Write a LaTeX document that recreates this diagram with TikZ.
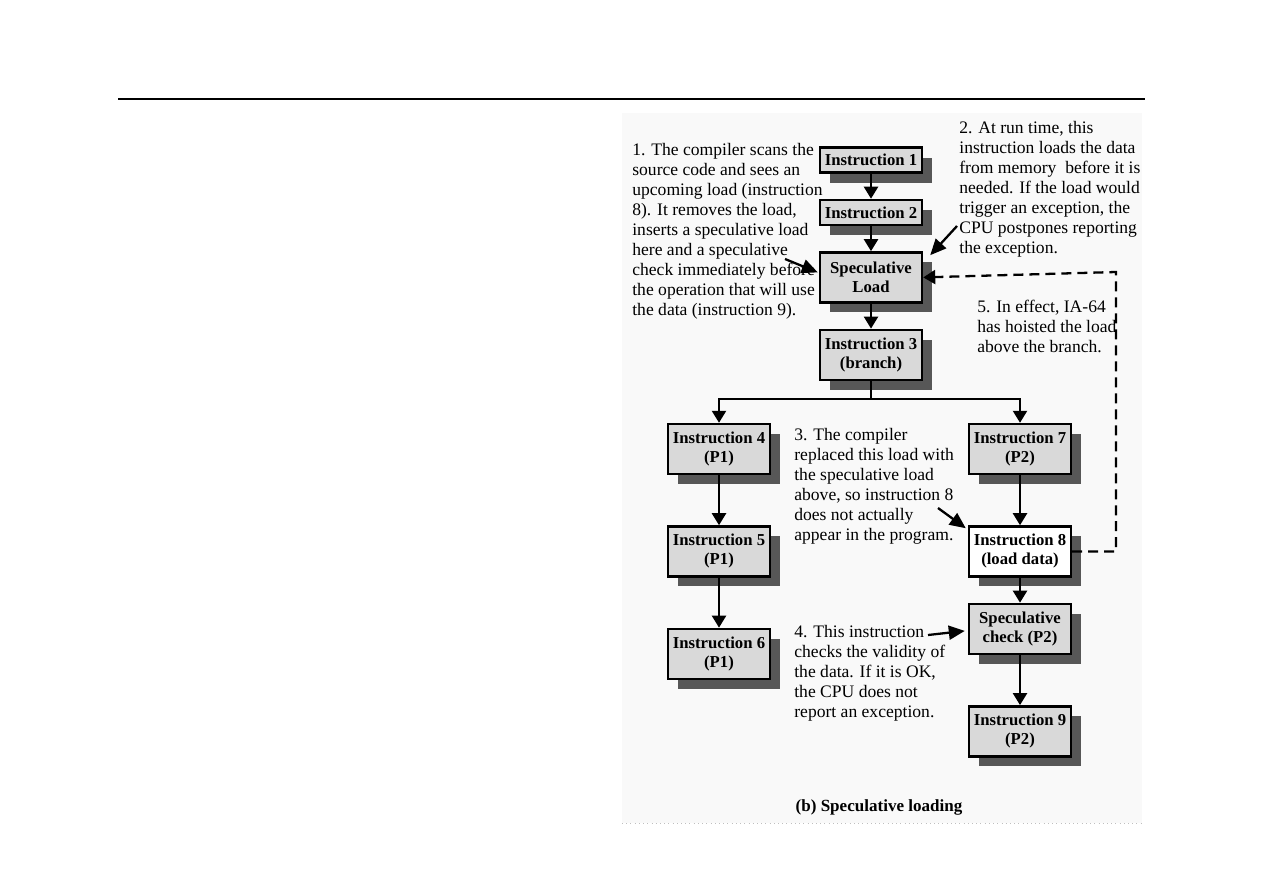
\documentclass[tikz,border=0pt]{standalone}
\usepackage{fontspec}
\setmainfont{Liberation Serif}
\usepackage{tikz}
\usetikzlibrary{arrows.meta, positioning, shadows}
\definecolor{boxgray}{HTML}{D9D9D9}
\definecolor{shadegray}{HTML}{575757}
\definecolor{panelgray}{HTML}{F9F9F9}

\begin{document}
\begin{tikzpicture}[
  x=0.02cm, y=-0.02cm,
  every node/.style={font=\fontsize{10pt}{11.4pt}\selectfont},
  instr/.style  ={rectangle, draw, line width=1.4pt, fill=boxgray,
                  minimum width=2.04cm, minimum height=5mm, inner sep=1pt,
                  align=center, font=\fontsize{9.5pt}{10.8pt}\selectfont\bfseries,
                  drop shadow={shadow xshift=0.2cm, shadow yshift=-0.2cm,
                               fill=shadegray, opacity=1}},
  instr2/.style ={instr, minimum height=10mm},
  note/.style   ={anchor=north west, inner sep=0pt, align=left},
  arr/.style    ={-{Triangle[width=0.28cm, length=0.24cm]}, line width=1.3pt},
  notearr/.style={-{Triangle[width=0.28cm, length=0.32cm]}, line width=1.3pt},
  dasharr/.style={-{Triangle[width=0.28cm, length=0.24cm]}, line width=1.3pt,
                  dash pattern=on 0.2cm off 0.12cm},
]
\useasboundingbox (0,0) rectangle (1263,893);

% Page rule and panel
\draw[line width=1pt] (118,99) -- (1145,99);
\fill[panelgray] (622,113) rectangle (1142,823);
\draw[gray!50, dotted] (622,823) -- (1142,823);

% Common path
\node[instr]  (i1) at (871,160)         {Instruction 1};
\node[instr,  below=5mm of i1]   (i2)   {Instruction 2};
\node[instr2, below=5mm of i2]   (sload) {Speculative\\Load};
\node[instr2, below=5mm of sload] (i3)  {Instruction 3\\(branch)};

% Path P1
\node[instr2] (i4) at (719,449)         {Instruction 4\\(P1)};
\node[instr2, below=10mm of i4]  (i5)   {Instruction 5\\(P1)};
\node[instr2, below=10mm of i5]  (i6)   {Instruction 6\\(P1)};

% Path P2
\node[instr2] (i7) at (1020,449)        {Instruction 7\\(P2)};
\node[instr2, below=10mm of i7, fill=white] (i8) {Instruction 8\\(load data)};
\node[instr2, below=5mm of i8]   (schk) {Speculative\\check (P2)};
\node[instr2, below=10mm of schk] (i9)  {Instruction 9\\(P2)};

% Notes
\node[note] (n1) at (632,143) {1. The compiler scans the\\source code and sees an\\upcoming load (instruction\\8). It removes the load,\\inserts a speculative load\\here and a speculative\\check immediately before\\the operation that will use\\the data (instruction 9).};
\node[note] (n2) at (959,121) {2. At run time, this\\instruction loads the data\\from memory\ \ before it is\\needed. If the load would\\trigger an exception, the\\CPU postpones reporting\\the exception.};
\node[note] (n5) at (977,300) {5. In effect, IA-64\\has hoisted the load\\above the branch.};
\node[note] (n3) at (794,428) {3. The compiler\\replaced this load with\\the speculative load\\above, so instruction 8\\does not actually\\appear in the program.};
\node[note] (n4) at (794,625) {4. This instruction\\checks the validity of\\the data. If it is OK,\\the CPU does not\\report an exception.};

% Caption
\node[font=\fontsize{9.7pt}{11pt}\selectfont\bfseries] (cap) at (879,807) {(b) Speculative loading};

% Wires - common path
\draw[arr] (i1) -- (i2);
\draw[arr] (i2) -- (sload);
\draw[arr] (sload) -- (i3);

% Branch
\coordinate (split) at (871,399);
\draw[arr] (i3.south) -- (split) -| (i4.north);
\draw[arr] (split) -| (i7.north);

% Down both paths
\draw[arr] (i4) -- (i5);
\draw[arr] (i5) -- (i6);
\draw[arr] (i7) -- (i8);
\draw[arr] (i8) -- (schk);
\draw[arr] (schk) -- (i9);

% Hoisted load
\coordinate (hoist) at (1116,272);
\draw[dasharr] (i8.east) -| (hoist) -- (sload.east);

% Note pointers
\coordinate (n1end) at (785,259);
\coordinate (n2end) at (957,226);
\coordinate (n3end) at (938,508);
\coordinate (n4end) at (928,635);
\draw[notearr] (n1end) -- ([shift={(-1,-5)}]sload.west);
\draw[notearr] (n2end) -- ([shift={(7,4)}]sload.north east);
\draw[notearr] (n3end) -- ([shift={(-2,3)}]i8.north west);
\draw[notearr] (n4end) -- ([shift={(-3,2)}]schk.west);

\end{tikzpicture}
\end{document}
